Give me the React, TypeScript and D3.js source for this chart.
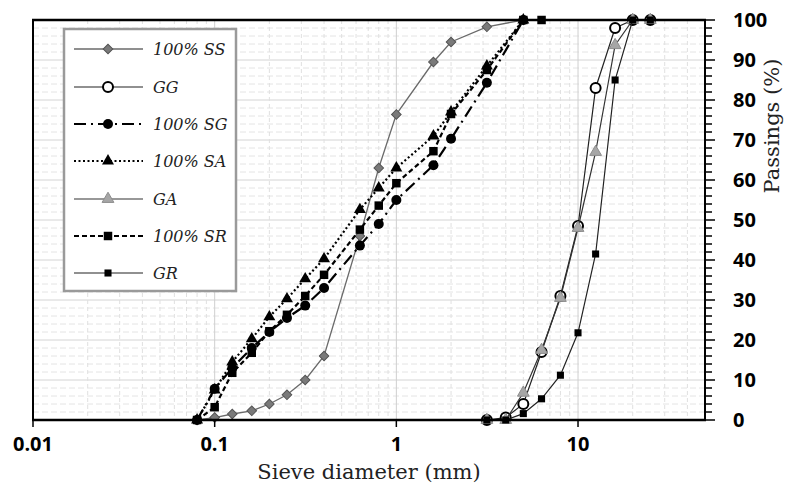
import React from "react";
import * as d3 from "d3";

// Sieve openings (mm)
const sieveFine = [0.08, 0.1, 0.125, 0.16, 0.2, 0.25, 0.315, 0.4, 0.63, 0.8, 1, 1.6, 2, 3.15, 5];
const sieveSR = [0.08, 0.1, 0.125, 0.16, 0.2, 0.25, 0.315, 0.4, 0.63, 0.8, 1, 1.6, 2, 3.15, 5, 6.3];
const sieveCoarse = [3.15, 4, 5, 6.3, 8, 10, 12.5, 16, 20, 25];

// Cumulative passing (%)
const passSS = [0, 0.6, 1.5, 2.3, 4, 6.3, 10, 16, 46, 63, 76.4, 89.5, 94.5, 98.3, 100];
const passSG = [0, 7.8, 13, 18, 22, 25.5, 28.6, 33, 43.6, 49, 55, 63.7, 70.3, 84.3, 100];
const passSA = [0, 7.5, 14.5, 20.3, 25.8, 30.3, 35.3, 40.3, 52.6, 58, 63, 71, 77, 88.5, 100];
const passSR = [0, 3.2, 11.8, 16.8, 22.2, 26.3, 31, 36.3, 47.6, 53.6, 59.2, 67.2, 76.5, 87.5, 100, 100];
const passGG = [0, 0.6, 4, 17, 31, 48.5, 83, 98, 100, 100];
const passGA = [0, 0, 6.8, 17.5, 30.5, 48, 67, 93.7, 100, 100];
const passGR = [0, 0, 1.6, 5.3, 11.2, 21.8, 41.5, 85, 100, 100];

const xTickValues = [0.01, 0.1, 1, 10];
const xTickLabels = ["0.01", "0.1", "1", "10"];
const yTickValues = [0, 10, 20, 30, 40, 50, 60, 70, 80, 90, 100];

type Marker = "diamond" | "openCircle" | "circle" | "triangle" | "grayTriangle" | "square" | "smallSquare";

interface Series {
  name: string;
  x: number[];
  y: number[];
  stroke: string;
  width: number;
  dash: string | null;
  marker: Marker;
}

const series: Series[] = [
  { name: "100% SS", x: sieveFine, y: passSS, stroke: "#6a6a6a", width: 1.3, dash: null, marker: "diamond" },
  { name: "GG", x: sieveCoarse, y: passGG, stroke: "#222", width: 1.2, dash: null, marker: "openCircle" },
  { name: "100% SG", x: sieveFine, y: passSG, stroke: "#000", width: 2.2, dash: "12,5,2,5", marker: "circle" },
  { name: "100% SA", x: sieveFine, y: passSA, stroke: "#000", width: 2.2, dash: "2,2.5", marker: "triangle" },
  { name: "GA", x: sieveCoarse, y: passGA, stroke: "#333", width: 1.2, dash: null, marker: "grayTriangle" },
  { name: "100% SR", x: sieveSR, y: passSR, stroke: "#000", width: 2.2, dash: "5,3", marker: "square" },
  { name: "GR", x: sieveCoarse, y: passGR, stroke: "#222", width: 1.2, dash: null, marker: "smallSquare" },
];

const W = 788;
const H = 483;
const left = 33;
const right = 705;
const top = 20;
const bottom = 420;

const x = d3.scaleLog().domain([0.01, 50]).range([left, right]);
const y = d3.scaleLinear().domain([0, 100]).range([bottom, top]);

function MarkerShape({ kind, cx, cy }: { kind: Marker; cx: number; cy: number }) {
  const t = `translate(${cx},${cy})`;
  switch (kind) {
    case "diamond":
      return (
        <path
          transform={`${t} rotate(45)`}
          d={d3.symbol().type(d3.symbolSquare).size(46)()!}
          fill="#7a7a7a"
          stroke="#555"
          strokeWidth={1}
        />
      );
    case "openCircle":
      return <circle cx={cx} cy={cy} r={5} fill="#fff" stroke="#000" strokeWidth={2} />;
    case "circle":
      return <circle cx={cx} cy={cy} r={5} fill="#000" />;
    case "triangle":
      return <path transform={t} d={d3.symbol().type(d3.symbolTriangle).size(62)()!} fill="#000" />;
    case "grayTriangle":
      return (
        <path
          transform={t}
          d={d3.symbol().type(d3.symbolTriangle).size(60)()!}
          fill="#a6a6a6"
          stroke="#8c8c8c"
          strokeWidth={1}
        />
      );
    case "square":
      return <path transform={t} d={d3.symbol().type(d3.symbolSquare).size(72)()!} fill="#000" />;
    case "smallSquare":
      return <path transform={t} d={d3.symbol().type(d3.symbolSquare).size(50)()!} fill="#000" />;
  }
}

export default function App() {
  const line = d3
    .line<[number, number]>()
    .x((d) => x(d[0]))
    .y((d) => y(d[1]));

  // minor vertical grid values (2..9 per decade)
  const minorX: number[] = [];
  for (let e = -2; e <= 1; e++) {
    for (let m = 2; m <= 9; m++) {
      const v = m * Math.pow(10, e);
      if (v < 50) minorX.push(v);
    }
  }
  const gridY = d3.range(2, 100, 2);
  const minorYTicks = d3.range(0, 101, 2).filter((v) => v % 10 !== 0);

  const legendX = 64;
  const legendY = 29;
  const legendRows = [49, 87, 124, 161, 199, 236, 273];

  return (
    <svg
      width={W}
      height={H}
      style={{ position: "absolute", left: 0, top: 0, background: "#fff" }}
    >
      {/* grid */}
      <g>
        {gridY.map((v) => (
          <line
            key={"gy" + v}
            x1={left}
            x2={right}
            y1={y(v)}
            y2={y(v)}
            stroke={v % 10 === 0 ? "#d4d4d4" : "#e4e4e4"}
            strokeWidth={1}
            strokeDasharray={v % 10 === 0 ? undefined : "6,3"}
          />
        ))}
        {minorX.map((v) => (
          <line
            key={"gx" + v}
            x1={x(v)}
            x2={x(v)}
            y1={top}
            y2={bottom}
            stroke="#e0e0e0"
            strokeWidth={1}
            strokeDasharray="4,3"
          />
        ))}
        {xTickValues.slice(1).map((v) => (
          <line key={"gxm" + v} x1={x(v)} x2={x(v)} y1={top} y2={bottom} stroke="#cfcfcf" strokeWidth={1} />
        ))}
      </g>

      {/* series lines and markers */}
      {series.map((s) => {
        const pts = s.x.map((v, i) => [v, s.y[i]] as [number, number]);
        return (
          <g key={s.name}>
            <path
              d={line(pts)!}
              fill="none"
              stroke={s.stroke}
              strokeWidth={s.width}
              strokeDasharray={s.dash ?? undefined}
            />
            {pts.map((p, i) => (
              <MarkerShape key={i} kind={s.marker} cx={x(p[0])} cy={y(p[1])} />
            ))}
          </g>
        );
      })}

      {/* frame */}
      <line x1={left} x2={left} y1={top} y2={bottom} stroke="#000" strokeWidth={2} />
      <line x1={right} x2={right} y1={top} y2={bottom} stroke="#000" strokeWidth={2} />
      <line x1={left - 1} x2={right + 1} y1={top} y2={top} stroke="#000" strokeWidth={2.5} />
      <line x1={left - 1} x2={right + 1} y1={bottom} y2={bottom} stroke="#000" strokeWidth={2.5} />

      {/* x axis ticks & labels */}
      {xTickValues.map((v, i) => (
        <g key={"xt" + v}>
          <line x1={x(v)} x2={x(v)} y1={bottom} y2={bottom + 7} stroke="#000" strokeWidth={1.5} />
          <text
            x={x(v)}
            y={451}
            textAnchor="middle"
            fontFamily="'Open Sans', sans-serif"
            fontWeight={700}
            fontSize={20}
            fill="#000"
          >
            {xTickLabels[i]}
          </text>
        </g>
      ))}

      {/* right y axis ticks & labels */}
      {minorYTicks.map((v) => (
        <line key={"ymt" + v} x1={right} x2={right + 7} y1={y(v)} y2={y(v)} stroke="#000" strokeWidth={1.5} />
      ))}
      {yTickValues.map((v) => (
        <g key={"yt" + v}>
          <line x1={right} x2={right + 10} y1={y(v)} y2={y(v)} stroke="#000" strokeWidth={1.5} />
          <text
            x={733}
            y={y(v) + 7}
            textAnchor="start"
            fontFamily="'Open Sans', sans-serif"
            fontWeight={700}
            fontSize={20}
            fill="#000"
          >
            {v}
          </text>
        </g>
      ))}

      {/* axis titles */}
      <text
        x={369}
        y={479}
        textAnchor="middle"
        fontFamily="'DejaVu Serif', serif"
        fontSize={21}
        fill="#222"
      >
        Sieve diameter (mm)
      </text>
      <text
        transform={`translate(779,126) rotate(-90)`}
        textAnchor="middle"
        fontFamily="'DejaVu Serif', serif"
        fontSize={21}
        fill="#222"
      >
        Passings (%)
      </text>

      {/* legend */}
      <rect x={legendX} y={legendY} width={172} height={262} fill="#fff" stroke="#9a9a9a" strokeWidth={2.5} />
      {series.map((s, i) => {
        const ly = legendRows[i];
        return (
          <g key={"lg" + s.name}>
            <line
              x1={74}
              x2={143}
              y1={ly}
              y2={ly}
              stroke={s.stroke}
              strokeWidth={s.width}
              strokeDasharray={s.dash ?? undefined}
            />
            <MarkerShape kind={s.marker} cx={108} cy={ly} />
            <text
              x={153}
              y={ly + 6}
              fontFamily="'DejaVu Serif', serif"
              fontStyle="italic"
              fontSize={16}
              fill="#222"
            >
              {s.name}
            </text>
          </g>
        );
      })}
    </svg>
  );
}
